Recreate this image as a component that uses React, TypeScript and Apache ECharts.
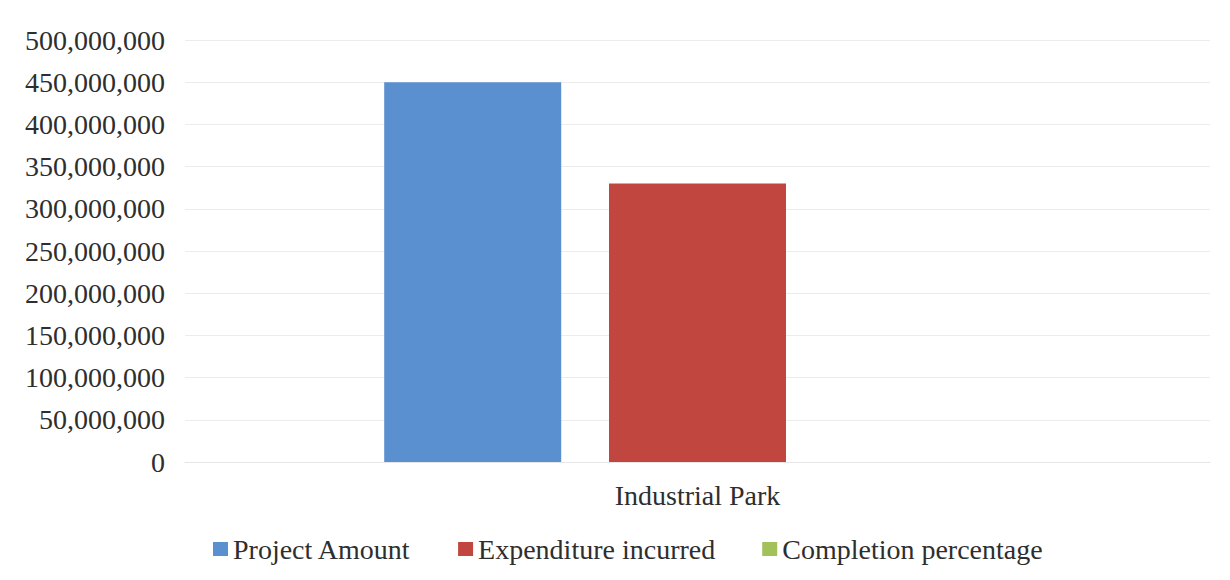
import React, { useEffect, useRef } from "react";
import * as echarts from "echarts";

const categories = ["Industrial Park"];
const seriesNames = ["Project Amount", "Expenditure incurred", "Completion percentage"];
const projectAmount = [450000000];
const expenditureIncurred = [330000000];
const completionPercentage = [73];
const seriesColors = ["#5a8fd0", "#c0463f", "#a2c15a"];

const FONT = "Liberation Serif";

function formatThousands(v: number): string {
  return String(Math.round(v)).replace(/\B(?=(\d{3})+(?!\d))/g, ",");
}

export default function App() {
  const ref = useRef<HTMLDivElement>(null);

  useEffect(() => {
    document.body.style.margin = "0";
    if (!ref.current) return;
    const chart = echarts.init(ref.current, undefined, { renderer: "svg" });
    const values = [projectAmount, expenditureIncurred, completionPercentage];
    chart.setOption({
      animation: false,
      backgroundColor: "#ffffff",
      textStyle: { fontFamily: FONT },
      grid: { left: 185, right: 20, top: 40, bottom: 118, containLabel: false },
      legend: {
        data: seriesNames,
        bottom: 12,
        left: 208,
        itemWidth: 15,
        itemHeight: 14,
        itemGap: 47,
        icon: "rect",
        textStyle: { fontFamily: FONT, fontSize: 28, color: "#2e2e2e" },
      },
      xAxis: {
        type: "category",
        data: categories,
        axisLine: { show: true, lineStyle: { color: "#e6e6e6", width: 1 } },
        axisTick: { show: false },
        axisLabel: { fontFamily: FONT, fontSize: 28, color: "#2e2e2e", margin: 19 },
      },
      yAxis: {
        type: "value",
        min: 0,
        max: 500000000,
        interval: 50000000,
        axisLine: { show: false },
        axisTick: { show: false },
        splitLine: { lineStyle: { color: "#ececec", width: 1 } },
        axisLabel: {
          fontFamily: FONT,
          fontSize: 28,
          color: "#2e2e2e",
          margin: 20,
          formatter: (v: number) => formatThousands(v),
        },
      },
      series: seriesNames.map((name, i) => ({
        name,
        type: "bar",
        data: values[i],
        barWidth: 177,
        barGap: "27%",
        itemStyle: { color: seriesColors[i] },
      })),
    });
    return () => chart.dispose();
  }, []);

  return <div ref={ref} style={{ width: 1230, height: 580 }} />;
}
